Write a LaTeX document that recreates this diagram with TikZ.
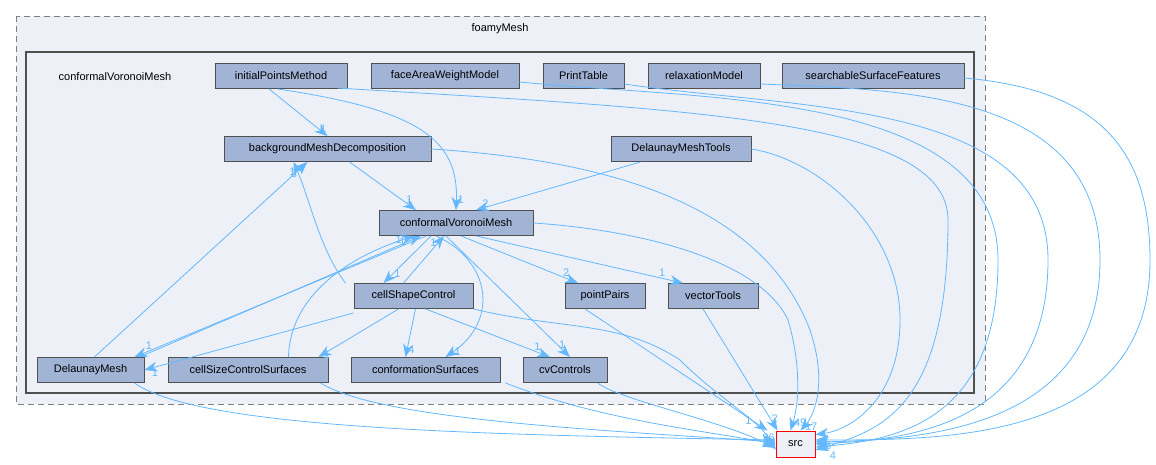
\documentclass[tikz,border=0pt]{standalone}
\usepackage{fontspec}
\setmainfont{Liberation Sans}
\usetikzlibrary{arrows.meta}
\definecolor{dirfill}{HTML}{A2B4D6}
\definecolor{dirline}{HTML}{505050}
\definecolor{boxfill}{HTML}{EDF0F7}
\definecolor{edgecol}{HTML}{63B8FF}

\begin{document}
\begin{tikzpicture}[x=1pt,y=-1pt,font=\fontsize{11}{13}\selectfont,
  dir/.style={draw=dirline,fill=dirfill,line width=0.9pt,minimum height=25pt,inner sep=0pt},
  dep/.style={edgecol,line width=0.8pt,-{Stealth[length=13pt,width=10pt]}},
  lbl/.style={text=edgecol,font=\fontsize{11}{13}\selectfont,inner sep=1pt}]
\useasboundingbox (0,0) rectangle (1156,465);

% package boxes
\draw [dashed,gray,line width=0.9pt,fill=boxfill,dash pattern=on 6pt off 4pt] (16,16) rectangle (985,404);
\node at (500,29) {foamyMesh};
\draw [dirline,line width=2pt,fill=boxfill] (26,52) rectangle (974,393);
\node at (115,77) {conformalVoronoiMesh};

% directories
\node [dir,minimum width=132pt] (ipm) at (281,76) {initialPointsMethod};
\node [dir,minimum width=148pt] (fawm) at (445,76) {faceAreaWeightModel};
\node [dir,minimum width=81pt] (pt) at (583.5,76) {PrintTable};
\node [dir,minimum width=112pt] (rm) at (704,76) {relaxationModel};
\node [dir,minimum width=182pt] (ssf) at (873,76) {searchableSurfaceFeatures};
\node [dir,minimum width=207pt] (bmd) at (327.5,149) {backgroundMeshDecomposition};
\node [dir,minimum width=140pt] (dmt) at (681,149) {DelaunayMeshTools};
\node [dir,minimum width=154pt] (cvm) at (456,223) {conformalVoronoiMesh};
\node [dir,minimum width=119pt] (csc) at (413.5,296) {cellShapeControl};
\node [dir,minimum width=80pt] (pp) at (605,296) {pointPairs};
\node [dir,minimum width=90pt] (vt) at (713,296) {vectorTools};
\node [dir,minimum width=107pt] (dm) at (90.5,370) {DelaunayMesh};
\node [dir,minimum width=160pt] (cscs) at (248,370) {cellSizeControlSurfaces};
\node [dir,minimum width=149pt] (cs) at (425.5,370) {conformationSurfaces};
\node [dir,minimum width=84pt] (cvc) at (565,370) {cvControls};
\node [draw=red,fill=boxfill,line width=0.9pt,minimum width=39pt,minimum height=26pt,inner sep=0pt] (src) at (795.5,444) {src};

% dependencies inside
\draw [dep] (ipm.south) ++(-12,0) -- (bmd.north) node [lbl,pos=0.85,right] {1};
\draw [dep] (ipm.south east) ++(-70,0) .. controls (420,110) and (459,140) .. (cvm.north) node [lbl,pos=0.95,right] {1};
\draw [dep] (bmd.south) ++(22,0) -- ([xshift=-40pt]cvm.north) node [lbl,pos=0.9,above] {1};
\draw [dep] (dmt.south west) ++(30,0) -- ([xshift=20pt]cvm.north) node [lbl,pos=0.97,above right] {2};
\draw [dep] ([xshift=-25pt]cvm.south) -- ([xshift=-30pt]csc.north) node [lbl,pos=0.8,right] {1};
\draw [dep] ([xshift=-10pt]csc.north) -- ([xshift=-12pt]cvm.south) node [lbl,pos=0.85,left] {1};
\draw [dep] ([xshift=-8pt]csc.north west) .. controls (320,250) and (310,200) .. ([xshift=70pt]bmd.south west) node [lbl,pos=0.9,left] {3};
\draw [dep] ([xshift=-50pt]dm.north east) -- ([xshift=-20pt]bmd.south) node [lbl,pos=0.95,left] {1};
\draw [dep] ([xshift=-30pt]cvm.south) -- ([xshift=-10pt]dm.north east) node [lbl,pos=0.95,above] {1};
\draw [dep] ([xshift=-5pt]dm.north east) -- ([xshift=-35pt]cvm.south) node [lbl,pos=0.95,left] {1};
\draw [dep] ([xshift=-40pt]cscs.north east) .. controls (290,300) and (340,260) .. ([xshift=-42pt]cvm.south) node [lbl,pos=0.95,left] {1};
\draw [dep] ([yshift=-4pt]csc.south west) -- (dm.east) node [lbl,pos=0.95,below] {1};
\draw [dep] ([xshift=-15pt]csc.south) -- ([xshift=-10pt]cscs.north east) node [lbl,pos=0.95,right] {1};
\draw [dep] ([xshift=2pt]csc.south) -- ([xshift=-20pt]cs.north) node [lbl,pos=0.85,right] {4};
\draw [dep] ([xshift=12pt]csc.south) -- ([xshift=-15pt]cvc.north) node [lbl,pos=0.9,above] {1};
\draw [dep] ([xshift=-20pt]cvm.south) .. controls (490,260) and (500,320) .. ([xshift=20pt]cs.north) node [lbl,pos=0.95,right] {1};
\draw [dep] ([xshift=-10pt]cvm.south) -- ([xshift=5pt]cvc.north) node [lbl,pos=0.9,right] {1};
\draw [dep] ([xshift=5pt]cvm.south) -- ([xshift=-27pt]pp.north) node [lbl,pos=0.9,above] {2};
\draw [dep] ([xshift=20pt]cvm.south) -- ([xshift=-30pt]vt.north) node [lbl,pos=0.9,above] {1};

% dependencies to src
\draw [dep] ([xshift=-10pt]dm.south east) .. controls (200,430) and (500,435) .. ([yshift=4pt]src.west);
\draw [dep] ([xshift=-8pt]cscs.south east) .. controls (380,420) and (600,430) .. ([yshift=2pt]src.west);
\draw [dep] ([xshift=5pt]cs.south east) .. controls (600,420) and (700,430) .. (src.west) node [lbl,pos=0.97,above] {26};
\draw [dep] ([xshift=-10pt]cvc.south east) .. controls (620,400) and (720,420) .. ([yshift=-4pt]src.west);
\draw [dep] (csc.south east) .. controls (560,330) and (620,320) .. (680,360) .. controls (720,400) and (760,420) .. ([yshift=-6pt]src.west);
\draw [dep] ([xshift=-20pt]pp.south) -- ([xshift=-8pt]src.north west) node [lbl,pos=0.92,left] {1};
\draw [dep] ([xshift=-10pt]vt.south) -- ([xshift=2pt]src.north west) node [lbl,pos=0.9,right] {2};
\draw [dep] (cvm.east) .. controls (640,230) and (760,260) .. (788,320) .. controls (800,360) and (800,400) .. ([xshift=-5pt]src.north) node [lbl,pos=0.92,right] {49};
\draw [dep] (bmd.east) .. controls (600,160) and (760,200) .. (810,330) .. controls (830,390) and (810,420) .. ([xshift=5pt]src.north) node [lbl,pos=0.9,right] {17};
\draw [dep] (dmt.east) .. controls (820,160) and (900,230) .. (900,320) .. controls (900,400) and (850,430) .. ([yshift=-4pt]src.north east);
\draw [dep] ([xshift=-10pt]ipm.north east) ++(0,25) .. controls (700,110) and (948,120) .. (948,220) .. controls (948,410) and (880,430) .. ([yshift=-6pt]src.east);
\draw [dep] (fawm.east) ++(0,6) .. controls (700,100) and (998,90) .. (998,260) .. controls (998,420) and (900,440) .. ([yshift=-3pt]src.east);
\draw [dep] (pt.east) ++(0,8) .. controls (800,110) and (1048,100) .. (1048,260) .. controls (1048,430) and (900,440) .. (src.east);
\draw [dep] (rm.east) ++(0,8) .. controls (900,90) and (1100,90) .. (1100,260) .. controls (1100,430) and (920,440) .. ([yshift=2pt]src.east);
\draw [dep] (ssf.east) ++(0,2) .. controls (1100,90) and (1150,150) .. (1150,260) .. controls (1150,440) and (950,440) .. ([yshift=4pt]src.east) node [lbl,pos=0.98,below right] {3};
\node [lbl] at (833,456) {4};
\end{tikzpicture}
\end{document}
